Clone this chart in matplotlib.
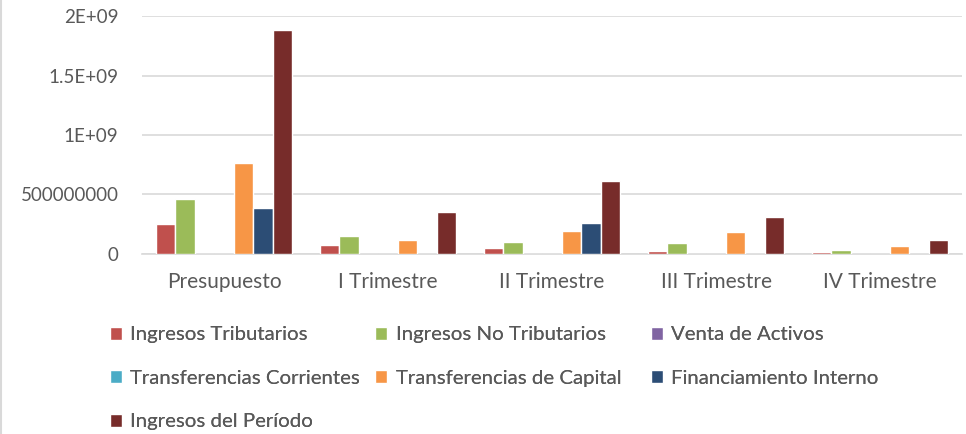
import matplotlib.pyplot as plt
import numpy as np

plt.rcParams['font.family'] = ['Lato', 'DejaVu Sans']

categories = ['Presupuesto', 'I Trimestre', 'II Trimestre', 'III Trimestre', 'IV Trimestre']
series = ['Ingresos Tributarios', 'Ingresos No Tributarios', 'Venta de Activos',
          'Transferencias Corrientes', 'Transferencias de Capital',
          'Financiamiento Interno', 'Ingresos del Período']
colors = ['#C0504D', '#9BBB59', '#8064A2', '#4BACC6', '#F79646', '#2C4D75', '#772C2A']

tributarios = [250e6, 75e6, 50e6, 28e6, 15e6]
no_tributarios = [462e6, 150e6, 100e6, 93e6, 31e6]
venta_activos = [0, 0, 0, 0, 0]
transf_corrientes = [0, 0, 0, 0, 0]
transf_capital = [767e6, 115e6, 193e6, 182e6, 65e6]
financiamiento = [384e6, 0, 258e6, 0, 0]
periodo = [1880e6, 350e6, 611e6, 314e6, 115e6]
values = [tributarios, no_tributarios, venta_activos, transf_corrientes,
          transf_capital, financiamiento, periodo]

fig = plt.figure(figsize=(9.66, 4.34), dpi=100)
ax = fig.add_axes([0.147, 0.415, 0.849, 0.548])

x = np.arange(len(categories))
slot = 1 / (7 + 1.4)
handles = []
for i, (vals, c) in enumerate(zip(values, colors)):
    h = ax.bar(x + (i - 3) * slot, vals, width=slot, color=c,
               edgecolor='white', linewidth=1.0, zorder=3)
    handles.append(h)

ax.set_xlim(-0.5, len(categories) - 0.5)
ax.set_ylim(0, 2e9)
ax.set_yticks([0, 5e8, 1e9, 1.5e9, 2e9])
ax.set_yticklabels(['0', '500000000', '1E+09', '1.5E+09', '2E+09'])
ax.set_xticks(x)
ax.set_xticklabels(categories)
ax.tick_params(axis='both', length=0, colors='#595959')
ax.tick_params(axis='x', labelsize=15, pad=13)
ax.tick_params(axis='y', labelsize=13.5, pad=17)
ax.grid(axis='y', color='#d9d9d9', linewidth=1.2, zorder=0)
for s in ['top', 'right', 'left']:
    ax.spines[s].set_visible(False)
ax.spines['bottom'].set_color('#d9d9d9')
ax.spines['bottom'].set_linewidth(1.2)

# legend laid out in rows of three, one legend per column
columns = [[0, 3, 6], [1, 4], [2, 5]]
col_x = [0.105, 0.380, 0.665]
for idx, cx in zip(columns, col_x):
    leg = fig.legend([handles[i] for i in idx], [series[i] for i in idx],
                     loc='upper left', bbox_to_anchor=(cx, 0.267), frameon=False,
                     fontsize=14.7, labelcolor='#595959', handlelength=0.6,
                     handleheight=0.6, handletextpad=0.4, labelspacing=1.3,
                     borderaxespad=0)
    fig.add_artist(leg)

fig.add_artist(plt.Line2D([0.001, 0.001], [0, 1], color='#d9d9d9', linewidth=1.5))

fig.savefig('out.png', dpi=100)
